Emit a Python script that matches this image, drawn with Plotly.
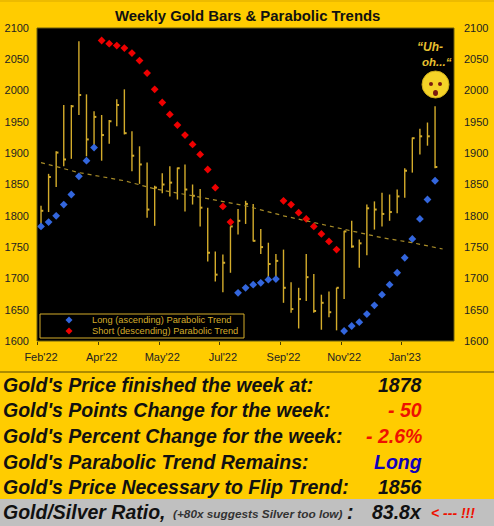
import plotly.graph_objects as go

W, H = 494, 526

weeks = list(range(53))
highs = [1816, 1867, 1903, 1977, 1977, 2079, 1994, 1967, 1961, 1953, 1986, 2002, 1935, 1911, 1885, 1848, 1868, 1879,
         1877, 1882, 1850, 1843, 1813, 1743, 1738, 1783, 1811, 1824, 1819, 1779, 1757, 1739, 1746, 1694, 1685, 1739,
         1707, 1674, 1679, 1685, 1776, 1792, 1762, 1818, 1823, 1837, 1834, 1842, 1876, 1925, 1939, 1949, 1975]
lows = [1786, 1806, 1846, 1879, 1891, 1961, 1895, 1910, 1888, 1915, 1943, 1930, 1871, 1851, 1797, 1784, 1836, 1831,
        1826, 1807, 1818, 1783, 1727, 1695, 1678, 1709, 1770, 1787, 1759, 1739, 1699, 1704, 1661, 1645, 1620, 1664,
        1645, 1618, 1638, 1617, 1667, 1749, 1717, 1737, 1778, 1783, 1792, 1804, 1829, 1869, 1898, 1912, 1876]
closes = [1808, 1862, 1901, 1890, 1975, 1993, 1922, 1958, 1929, 1951, 1977, 1932, 1896, 1882, 1810, 1845, 1850, 1853,
          1876, 1842, 1832, 1813, 1741, 1706, 1725, 1783, 1792, 1819, 1760, 1750, 1723, 1728, 1685, 1651, 1667, 1702,
          1648, 1661, 1646, 1685, 1775, 1751, 1756, 1812, 1810, 1803, 1806, 1831, 1872, 1924, 1927, 1927, 1878]

long_weeks = [0, 1, 2, 3, 4, 5, 6, 7, 26, 27, 28, 29, 30, 31, 40, 41, 42, 43, 44, 45, 46, 47, 48, 49, 50, 51, 52]
long_values = [1783, 1790, 1800, 1818, 1834, 1863, 1888, 1909, 1677, 1685, 1690, 1693, 1698, 1699,
               1616, 1624, 1630, 1643, 1657, 1674, 1690, 1709, 1733, 1763, 1795, 1826, 1856]
short_weeks = [8, 9, 10, 11, 12, 13, 14, 15, 16, 17, 18, 19, 20, 21, 22, 23, 24, 25, 32, 33, 34, 35, 36, 37, 38, 39]
short_values = [2080, 2075, 2072, 2068, 2060, 2048, 2028, 2002, 1981, 1962, 1945, 1929, 1914, 1898, 1874, 1845, 1815,
                1790, 1824, 1818, 1805, 1795, 1783, 1771, 1759, 1746]

trend_weeks = [0, 5, 11, 15, 20, 27, 32, 40, 45, 49, 53]
trend_values = [1885, 1869, 1856, 1843, 1832, 1816, 1800, 1779, 1765, 1757, 1747]

label_weeks = [0, 8, 16, 24, 32, 40, 48]
tick_weeks = [-0.4, 7.6, 15.6, 23.6, 31.6, 39.6, 47.6]
month_labels = ["Feb'22", "Apr'22", "May'22", "Jul'22", "Sep'22", "Nov'22", "Jan'23"]
price_ticks = [1600, 1650, 1700, 1750, 1800, 1850, 1900, 1950, 2000, 2050, 2100]

stat_labels = ["Gold's Price finished the week at:", "Gold's Points Change for the week:",
               "Gold's Percent Change for the week:", "Gold's Parabolic Trend Remains:",
               "Gold's Price Necessary to Flip Trend:"]
stat_values = ["1878", "- 50", "- 2.6%", "Long", "1856"]
stat_colors = ["#111111", "#EE1100", "#EE1100", "#1100BB", "#111111"]
legend_labels = ["Long (ascending) Parabolic Trend", "Short (descending) Parabolic Trend"]

GOLD = "#D4AC2B"
BG = "#FFCC00"
BLUE = "#3366DD"
RED = "#EE0000"
XRANGE = [-0.53, 54.5]
YRANGE = [1600, 2100]


def px(x):
    return x / W


def py(y):
    return 1 - y / H


def diamond(cx, cy, r, color):
    # legend key, in paper coordinates
    pts = [(cx - r, cy), (cx, cy - r), (cx + r, cy), (cx, cy + r)]
    path = "M " + " L ".join(f"{px(a):.5f} {py(b):.5f}" for a, b in pts) + " Z"
    return dict(type="path", xref="paper", yref="paper", path=path, fillcolor=color, line_width=0)


fig = go.Figure()

# hi-lo sticks with the close tick to the right
fig.add_trace(go.Scatter(
    x=weeks, y=closes, mode="none",
    error_y=dict(type="data", symmetric=False,
                 array=[h - c for h, c in zip(highs, closes)],
                 arrayminus=[c - l for c, l in zip(closes, lows)],
                 color=GOLD, thickness=1.4, width=0),
    error_x=dict(type="constant", symmetric=False, value=0.3, valueminus=0,
                 color=GOLD, thickness=2, width=0),
))
fig.add_trace(go.Scatter(x=long_weeks, y=long_values, mode="markers", name=legend_labels[0],
                         marker=dict(symbol="diamond", size=6, color=BLUE)))
fig.add_trace(go.Scatter(x=short_weeks, y=short_values, mode="markers", name=legend_labels[1],
                         marker=dict(symbol="diamond", size=6, color=RED)))
fig.add_trace(go.Scatter(x=trend_weeks, y=trend_values, mode="lines", xaxis="x2", yaxis="y2",
                         line=dict(color="#A88C28", width=1.2, dash="4px,4px")))

shapes = [
    dict(type="rect", xref="paper", yref="paper", x0=0, x1=1, y0=py(526), y1=py(499), fillcolor="#C0C0C0",
         line_width=0, layer="below"),
    dict(type="rect", xref="paper", yref="paper", x0=0, x1=1, y0=py(2), y1=py(0), fillcolor="#EDBB00",
         line_width=0, layer="below"),
    dict(type="line", xref="paper", yref="paper", x0=0, x1=1, y0=py(372), y1=py(372),
         line=dict(color="#5A4A00", width=1)),
    dict(type="rect", xref="paper", yref="paper", x0=px(37), x1=px(454), y0=py(341), y1=py(28),
         line=dict(color="#6B5E10", width=1)),
    # legend box
    dict(type="rect", xref="paper", yref="paper", x0=px(40), x1=px(244), y0=py(338), y1=py(314),
         line=dict(color=GOLD, width=1)),
    diamond(69, 320, 3.5, BLUE),
    diamond(69, 331, 3.5, RED),
    # the surprised face
    dict(type="circle", xref="paper", yref="paper", x0=px(422), x1=px(449), y0=py(98), y1=py(71),
         fillcolor="#F5D327", line=dict(color="#C8A818", width=1)),
    dict(type="circle", xref="paper", yref="paper", x0=px(429), x1=px(433), y0=py(86), y1=py(82),
         fillcolor="#7A1A10", line_width=0),
    dict(type="circle", xref="paper", yref="paper", x0=px(438), x1=px(442), y0=py(86), y1=py(82),
         fillcolor="#7A1A10", line_width=0),
    dict(type="circle", xref="paper", yref="paper", x0=px(433), x1=px(438), y0=py(96), y1=py(90),
         fillcolor="#7A1A10", line_width=0),
]

annotations = [
    dict(x=px(247), y=py(16), xanchor="center", text="<b>Weekly Gold Bars & Parabolic Trends</b>",
         font=dict(size=14.9, color="#111111")),
    dict(x=px(430), y=py(47), xanchor="center", text="<b><i>\u201cUh-</i></b>", font=dict(size=12, color="#E8C030")),
    dict(x=px(454), y=py(62), xanchor="right", text="<b><i>oh...\u201c</i></b>", font=dict(size=11.5, color="#E8C030")),
    dict(x=px(90), y=py(320), xanchor="left", text=legend_labels[0], font=dict(size=9.3, color=GOLD)),
    dict(x=px(90), y=py(331), xanchor="left", text=legend_labels[1], font=dict(size=9.3, color=GOLD)),
]
for i, (label, value, color) in enumerate(zip(stat_labels, stat_values, stat_colors)):
    row_y = [385, 410, 436, 462, 487][i]
    annotations.append(dict(x=px(1), y=py(row_y), xanchor="left", text=f"<b><i>{label}</i></b>",
                            font=dict(size=19.5, color="#111111")))
    annotations.append(dict(x=px(424), y=py(row_y), xanchor="right", text=f"<b><i>{value}</i></b>",
                            font=dict(size=19.5, color=color)))
annotations += [
    dict(x=px(1), y=py(512), xanchor="left", text="<b><i>Gold/Silver Ratio,</i></b>",
         font=dict(size=19.5, color="#111111")),
    dict(x=px(171), y=py(514), xanchor="left", text="<b><i>(+80x suggests Silver too low)</i></b>",
         font=dict(size=11.8, color="#333333")),
    dict(x=px(345), y=py(512), xanchor="left", text="<b><i>:</i></b>", font=dict(size=19.5, color="#111111")),
    dict(x=px(424), y=py(512), xanchor="right", text="<b><i>83.8x</i></b>", font=dict(size=19.5, color="#111111")),
    dict(x=px(429), y=py(513), xanchor="left", text="<b><i>&lt; --- !!!</i></b>", font=dict(size=14, color="#EE1100")),
]
for a in annotations:
    a.update(xref="paper", yref="paper", showarrow=False, yanchor="middle")

fig.update_layout(
    width=W, height=H, margin=dict(l=0, r=0, t=0, b=0),
    paper_bgcolor=BG, plot_bgcolor="#000000", showlegend=False,
    font=dict(family="Liberation Sans, Arial, sans-serif", color="#222222"),
    shapes=shapes, annotations=annotations,
    xaxis=dict(domain=[px(37), px(454)], range=XRANGE, tickvals=label_weeks, ticktext=month_labels,
               ticks="", showgrid=False, zeroline=False, automargin=False,
               tickfont=dict(size=11, color="#222222"), ticklabelstandoff=8),
    yaxis=dict(domain=[py(341), py(28)], range=YRANGE, tickvals=price_ticks, ticks="", showgrid=False,
               zeroline=False, automargin=False, tickfont=dict(size=11, color="#222222"), ticklabelstandoff=7),
    xaxis2=dict(overlaying="x", range=XRANGE, tickvals=tick_weeks, ticktext=[""] * 7, ticks="outside", ticklen=3,
                tickcolor="#4A4000", showgrid=False, zeroline=False, side="bottom", automargin=False),
    yaxis2=dict(overlaying="y", range=YRANGE, side="right", anchor="x2", tickvals=price_ticks, ticks="",
                showgrid=False, zeroline=False, automargin=False,
                tickfont=dict(size=11, color="#222222"), ticklabelstandoff=9),
)

fig.write_html("out.html", config={"displayModeBar": False}, post_script="document.body.style.margin='0';")
